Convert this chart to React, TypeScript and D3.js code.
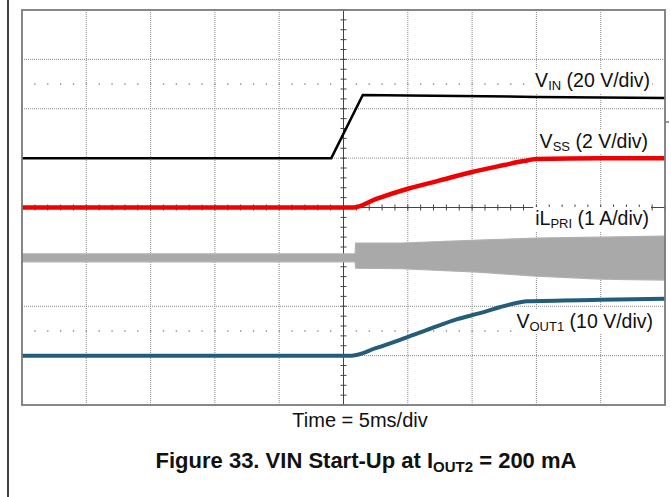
import React, { useLayoutEffect, useRef, useState } from "react";
import * as d3 from "d3";

// Time axis in divisions (5 ms/div), vertical in screen divisions (0 = bottom, 8 = top)
const vinT = [0, 4.81, 5.3, 6.0, 8.0, 10];
const vinV = [5.0, 5.0, 6.28, 6.27, 6.24, 6.22];

const vssT = [0, 5.15, 5.5, 6.0, 6.5, 7.0, 7.5, 7.8, 8.0, 9.0, 10];
const vssV = [4.0, 4.0, 4.17, 4.38, 4.55, 4.72, 4.86, 4.94, 4.98, 5.0, 5.0];

const ilT = [0, 5.18, 5.19, 5.9, 7.1, 8.0, 9.0, 10];
const ilUpper = [3.06, 3.06, 3.28, 3.28, 3.34, 3.38, 3.4, 3.42];
const ilLower = [2.9, 2.9, 2.77, 2.76, 2.69, 2.61, 2.55, 2.53];

const voutT = [0, 5.13, 5.5, 5.88, 6.3, 6.77, 7.12, 7.43, 7.67, 7.85, 9, 10];
const voutV = [1.0, 1.0, 1.15, 1.32, 1.52, 1.74, 1.86, 1.98, 2.06, 2.1, 2.13, 2.15];

const labelMain = ["V", "V", "iL", "V"];
const labelSub = ["IN", "SS", "PRI", "OUT1"];
const labelRest = [" (20 V/div)", " (2 V/div)", " (1 A/div)", " (10 V/div)"];

const xDivs = d3.range(0, 11);
const yDivs = d3.range(0, 9);
const dotRows = [6.5, 1.5];

const W = 671;
const H = 497;
const L = 22, R = 665, T = 10, B = 405;
const labelPos = [
  [650, 87],
  [648, 148],
  [649, 225],
  [653, 328],
];

export default function App() {
  const x = d3.scaleLinear().domain([0, 10]).range([L, R]);
  const y = d3.scaleLinear().domain([0, 8]).range([B, T]);

  const refs = useRef<(SVGTextElement | null)[]>([]);
  const [boxes, setBoxes] = useState<{ x: number; y: number; width: number; height: number }[]>([]);

  useLayoutEffect(() => {
    const b = refs.current.map((el) => {
      if (!el) return { x: 0, y: 0, width: 0, height: 0 };
      const bb = el.getBBox();
      return { x: bb.x, y: bb.y, width: bb.width, height: bb.height };
    });
    setBoxes(b);
  }, []);

  const line = (ts: number[], vs: number[], curve = d3.curveLinear) =>
    d3.line<number>().curve(curve).x((_, i) => x(ts[i])).y((v) => y(v))(vs) || "";

  const area =
    d3
      .area<number>()
      .x((_, i) => x(ilT[i]))
      .y0((_, i) => y(ilLower[i]))
      .y1((v) => y(v))(ilUpper) || "";

  const font = "'Liberation Sans', Arial, sans-serif";
  const gridColor = "#8a8a8a";

  const minorX = d3.range(0, 50.01, 1).map((k) => k / 5);
  const minorY = d3.range(0, 40.01, 1).map((k) => k / 5);

  return (
    <svg
      width={W}
      height={H}
      style={{ position: "absolute", left: 0, top: 0, background: "#fff" }}
    >
      <line x1={8} x2={8} y1={0} y2={H} stroke="#000" strokeWidth={1.5} />

      {/* dotted grid */}
      {xDivs
        .filter((k) => k > 0 && k < 10 && k !== 5)
        .map((k) => (
          <line key={"vx" + k} x1={x(k)} x2={x(k)} y1={T} y2={B}
            stroke={gridColor} strokeWidth={1} strokeDasharray="1,1" />
        ))}
      {yDivs
        .filter((k) => k > 0 && k < 8 && k !== 4)
        .map((k) => (
          <line key={"hy" + k} x1={L} x2={R} y1={y(k)} y2={y(k)}
            stroke={gridColor} strokeWidth={1} strokeDasharray="1,1" />
        ))}
      {dotRows.map((r) =>
        minorX
          .filter((t) => t > 0 && t < 10)
          .map((t) => (
            <rect key={"d" + r + "_" + t} x={x(t) - 0.6} y={y(r) - 0.6} width={1.3} height={1.3} fill="#777" />
          ))
      )}

      {/* center axes */}
      <line x1={x(5)} x2={x(5)} y1={T} y2={B} stroke="#444" strokeWidth={1} />
      <line x1={L} x2={R} y1={y(4)} y2={y(4)} stroke="#444" strokeWidth={1} />
      {minorY.map((v) => (
        <line key={"ty" + v} x1={x(5) - 3} x2={x(5) + 3} y1={y(v)} y2={y(v)} stroke="#444" strokeWidth={1} />
      ))}
      {minorX.map((t) => (
        <line key={"tx" + t} x1={x(t)} x2={x(t)} y1={y(4) - 3} y2={y(4) + 3} stroke="#444" strokeWidth={1} />
      ))}

      {/* label backgrounds */}
      {boxes.map((b, i) => (
        <rect key={"bg" + i} x={b.x - 2} y={b.y} width={b.width + 4} height={b.height} fill="#fff" />
      ))}

      {/* traces */}
      <path d={area} fill="#a9a9a9" stroke="#b0b0b0" strokeWidth={1.2} />
      <path d={line(voutT, voutV, d3.curveMonotoneX)} fill="none" stroke="#245d79" strokeWidth={4} />
      <path d={line(vssT, vssV, d3.curveMonotoneX)} fill="none" stroke="#f00000" strokeWidth={4.5} />
      <path d={line(vinT, vinV)} fill="none" stroke="#000" strokeWidth={2.5} />

      {/* frame */}
      <rect x={L} y={T} width={R - L} height={B - T} fill="none" stroke="#7a7a7a" strokeWidth={1.8} />
      <line x1={R + 1} x2={R + 4} y1={122} y2={122} stroke="#333" strokeWidth={1} />

      {labelMain.map((m, i) => (
        <text
          key={"lb" + i}
          ref={(el) => { refs.current[i] = el; }}
          x={labelPos[i][0]}
          y={labelPos[i][1]}
          textAnchor="end"
          fontFamily={font}
          fontSize={19.5}
          fill="#111"
        >
          {m}
          <tspan fontSize={13} dy={3}>{labelSub[i]}</tspan>
          <tspan dy={-3}>{labelRest[i]}</tspan>
        </text>
      ))}

      <text x={360} y={427} textAnchor="middle" fontFamily={font} fontSize={20} fill="#111">
        Time = 5ms/div
      </text>
      <text x={366} y={468} textAnchor="middle" fontFamily={font} fontSize={22} fontWeight="bold" fill="#111">
        Figure 33. VIN Start-Up at I<tspan fontSize={15} dy={4}>OUT2</tspan>
        <tspan dy={-4}> = 200 mA</tspan>
      </text>
    </svg>
  );
}
